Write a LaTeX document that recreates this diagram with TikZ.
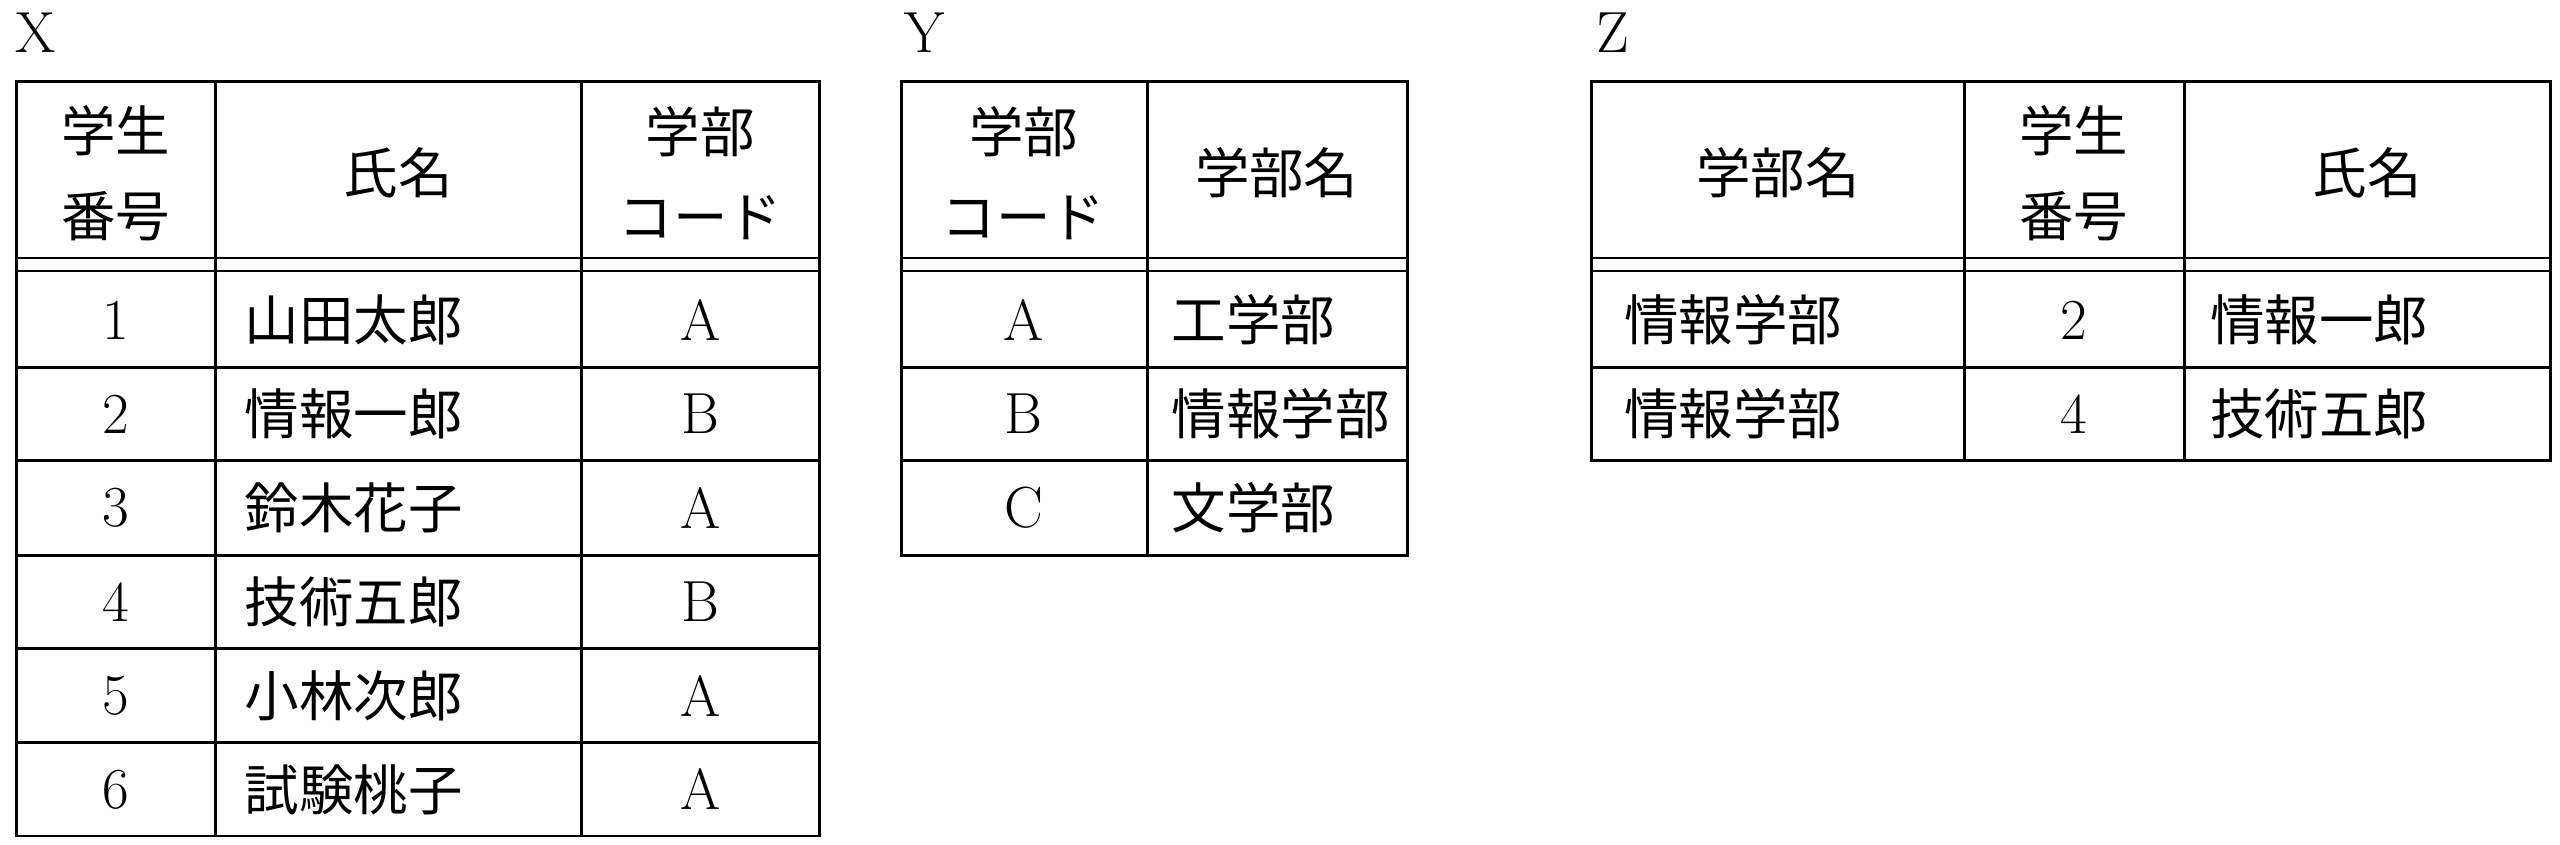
\documentclass[tikz,border=0pt]{standalone}
\usepackage{fontspec}
\newfontfamily\cjk{Noto Sans CJK JP}
\begin{document}
\begin{tikzpicture}[x=0.03266cm,y=-0.03266cm,
  txt/.style={font=\fontsize{31}{48}\selectfont\cjk},
  num/.style={font=\fontsize{33}{40}\selectfont},
  tab/.style={line width=1.6pt},
  thin/.style={line width=1pt}]
\useasboundingbox (0,0) rectangle (1568,517);
% ---- X ----
\node[num] (lx) at (22,20) {X};
\draw[tab] (10,50) rectangle (502,512);
\foreach \x in {132,356} \draw[tab] (\x,50) -- (\x,512);
\draw[thin] (10,158) -- (502,158); \draw[thin] (10,166) -- (502,166);
\foreach \y in {225,282,340,397,455} \draw[tab] (10,\y) -- (502,\y);
\node[txt,align=center] (xh1) at (71,106) {学生\\番号};
\node[txt] (xh2) at (244,106) {氏名};
\node[txt,align=center] (xh3) at (429,106) {学部\\コード};
\foreach \i/\n/\c [count=\k] in {1/山田太郎/A,2/情報一郎/B,3/鈴木花子/A,4/技術五郎/B,5/小林次郎/A,6/試験桃子/A}{
  \pgfmathsetmacro\yy{196+57.5*(\k-1)}
  \node[num] at (71,\yy) {\i};
  \node[txt,anchor=west] at (146,\yy) {\n};
  \node[num] at (429,\yy) {\c};
}
% ---- Y ----
\node[num] (ly) at (566,20) {Y};
\draw[tab] (552,50) rectangle (862,340);
\draw[tab] (703,50) -- (703,340);
\draw[thin] (552,158) -- (862,158); \draw[thin] (552,166) -- (862,166);
\foreach \y in {225,282} \draw[tab] (552,\y) -- (862,\y);
\node[txt,align=center] (yh1) at (627,106) {学部\\コード};
\node[txt] (yh2) at (782,106) {学部名};
\foreach \c/\n [count=\k] in {A/工学部,B/情報学部,C/文学部}{
  \pgfmathsetmacro\yy{196+57.5*(\k-1)}
  \node[num] at (627,\yy) {\c};
  \node[txt,anchor=west] at (714,\yy) {\n};
}
% ---- Z ----
\node[num] (lz) at (988,20) {Z};
\draw[tab] (975,50) rectangle (1562,282);
\foreach \x in {1203,1338} \draw[tab] (\x,50) -- (\x,282);
\draw[thin] (975,158) -- (1562,158); \draw[thin] (975,166) -- (1562,166);
\draw[tab] (975,225) -- (1562,225);
\node[txt] (zh1) at (1089,106) {学部名};
\node[txt,align=center] (zh2) at (1270,106) {学生\\番号};
\node[txt] (zh3) at (1450,106) {氏名};
\foreach \a/\b/\c [count=\k] in {情報学部/2/情報一郎,情報学部/4/技術五郎}{
  \pgfmathsetmacro\yy{196+57.5*(\k-1)}
  \node[txt,anchor=west] at (991,\yy) {\a};
  \node[num] at (1270,\yy) {\b};
  \node[txt,anchor=west] at (1350,\yy) {\c};
}
\end{tikzpicture}
\end{document}
